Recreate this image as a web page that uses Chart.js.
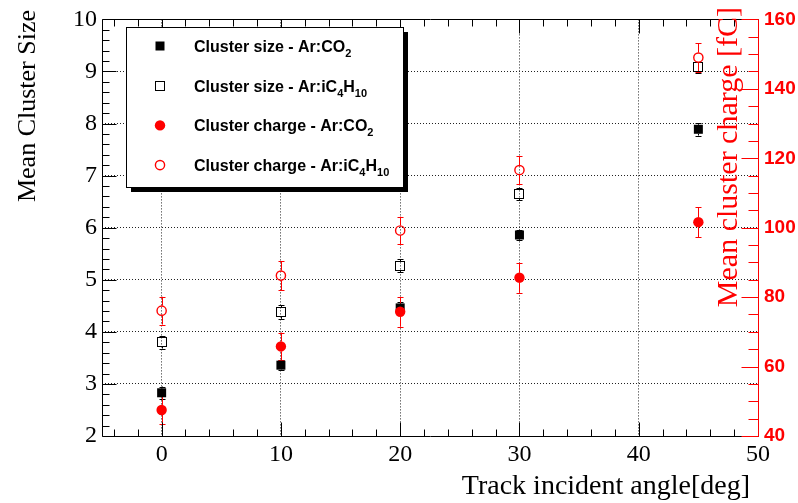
<!DOCTYPE html>
<html>
<head>
<meta charset="utf-8">
<script src="https://cdn.jsdelivr.net/npm/chart.js@4.4.0/dist/chart.umd.min.js"></script>
<style>
  body { margin: 0; background: #fff; }
  #wrap { width: 798px; height: 503px; }
</style>
</head>
<body>
<div id="wrap"><canvas id="myChart" width="798" height="503"></canvas></div>
<script>
// track incident angles [deg]
const angles = [0, 10, 20, 30, 45];

// mean cluster size (left axis)
const sizeCO2 = [2.83, 3.36, 4.46, 5.86, 7.89];
const sizeCO2Err = [0.12, 0.10, 0.12, 0.10, 0.12];
const sizeIso = [3.80, 4.38, 5.27, 6.65, 9.08];
const sizeIsoErr = [0.12, 0.13, 0.12, 0.12, 0.10];

// mean cluster charge [fC] (right axis)
const chargeCO2 = [47.5, 65.8, 75.8, 85.6, 101.6];
const chargeCO2Err = [4.0, 4.0, 4.3, 4.3, 4.3];
const chargeIso = [76.1, 86.2, 99.2, 116.6, 149.0];
const chargeIsoErr = [4.0, 4.2, 4.0, 4.0, 4.2];

const xTicks = [0, 10, 20, 30, 40, 50];
const yTicks = [2, 3, 4, 5, 6, 7, 8, 9, 10];
const y2Ticks = [40, 60, 80, 100, 120, 140, 160];

const RED = '#ff0000';

function pts(vals) {
    return angles.map(function (a, i) { return {x: a, y: vals[i]}; });
}

function setTicks(list) {
    return function (scale) {
        scale.ticks = list.map(function (v) { return {value: v}; });
    };
}

// marker shapes, shared by the plot and the legend
function drawMarker(ctx, type, x, y) {
    ctx.save();
    ctx.beginPath();
    if (type === 'fsq') {
        ctx.fillStyle = '#000';
        ctx.fillRect(x - 4.5, y - 4.5, 9, 9);
    } else if (type === 'osq') {
        ctx.strokeStyle = '#000';
        ctx.lineWidth = 1;
        ctx.strokeRect(Math.round(x) - 4.5, Math.round(y) - 4.5, 9, 9);
    } else if (type === 'fci') {
        ctx.fillStyle = RED;
        ctx.arc(x, y, 5.2, 0, Math.PI * 2);
        ctx.fill();
    } else {
        ctx.strokeStyle = RED;
        ctx.lineWidth = 1.4;
        ctx.arc(x, y, 4.6, 0, Math.PI * 2);
        ctx.stroke();
    }
    ctx.restore();
}

const legendRows = [
    {marker: 'fsq', parts: [['Cluster size - Ar:CO', 0], ['2', 1]]},
    {marker: 'osq', parts: [['Cluster size - Ar:iC', 0], ['4', 1], ['H', 0], ['10', 1]]},
    {marker: 'fci', parts: [['Cluster charge - Ar:CO', 0], ['2', 1]]},
    {marker: 'oci', parts: [['Cluster charge - Ar:iC', 0], ['4', 1], ['H', 0], ['10', 1]]}
];

const rootStyle = {
    id: 'rootStyle',
    beforeDatasetsDraw: function (chart) {
        const ctx = chart.ctx;
        chart.data.datasets.forEach(function (ds, i) {
            const meta = chart.getDatasetMeta(i);
            const sc = chart.scales[ds.yAxisID];
            const gap = ds.markerType.indexOf('sq') > 0 ? 4.5 : 5;
            ctx.save();
            ctx.strokeStyle = ds.barColor;
            ctx.lineWidth = 1;
            meta.data.forEach(function (p, j) {
                const v = ds.data[j].y, e = ds.errors[j];
                const x = Math.round(p.x) + 0.5;
                const top = sc.getPixelForValue(v + e);
                const bot = sc.getPixelForValue(v - e);
                ctx.beginPath();
                ctx.moveTo(x, p.y - gap); ctx.lineTo(x, top);
                ctx.moveTo(x, p.y + gap); ctx.lineTo(x, bot);
                ctx.moveTo(x - 3, Math.round(top) + 0.5); ctx.lineTo(x + 3, Math.round(top) + 0.5);
                ctx.moveTo(x - 3, Math.round(bot) + 0.5); ctx.lineTo(x + 3, Math.round(bot) + 0.5);
                ctx.stroke();
            });
            ctx.restore();
        });
    },
    afterDatasetsDraw: function (chart) {
        const ctx = chart.ctx;
        chart.data.datasets.forEach(function (ds, i) {
            chart.getDatasetMeta(i).data.forEach(function (p) {
                drawMarker(ctx, ds.markerType, p.x, p.y);
            });
        });
    },
    afterDraw: function (chart) {
        const ctx = chart.ctx;
        const a = chart.chartArea;
        const xs = chart.scales.x, ys = chart.scales.y, y2 = chart.scales.y2;
        const L = Math.round(a.left) + 0.5, R = Math.round(a.right) + 0.5;
        const T = Math.round(a.top) + 0.5, B = Math.round(a.bottom) + 0.5;

        ctx.save();
        // frame
        ctx.strokeStyle = '#000';
        ctx.lineWidth = 1;
        ctx.beginPath();
        ctx.moveTo(R, T); ctx.lineTo(L, T); ctx.lineTo(L, B); ctx.lineTo(R, B);
        ctx.stroke();

        // left axis ticks
        ctx.beginPath();
        for (let k = 0; k <= 40; k++) {
            const v = 2 + k * 0.2;
            const y = Math.round(ys.getPixelForValue(v)) + 0.5;
            const len = k % 5 === 0 ? 14 : 7;
            ctx.moveTo(L, y); ctx.lineTo(L + len, y);
        }
        // top and bottom ticks
        for (let v = -4; v <= 50; v += 2) {
            const x = Math.round(xs.getPixelForValue(v)) + 0.5;
            const len = v % 10 === 0 ? 14 : 7;
            ctx.moveTo(x, B); ctx.lineTo(x, B - len);
            ctx.moveTo(x, T); ctx.lineTo(x, T + len);
        }
        ctx.stroke();

        // right axis in red
        ctx.strokeStyle = RED;
        ctx.beginPath();
        ctx.moveTo(R, T); ctx.lineTo(R, B);
        for (let v = 40; v <= 160; v += 5) {
            const y = Math.round(y2.getPixelForValue(v)) + 0.5;
            const len = v % 20 === 0 ? 17 : 10;
            ctx.moveTo(R, y); ctx.lineTo(R - len, y);
        }
        ctx.stroke();

        // axis titles
        ctx.fillStyle = '#000';
        ctx.font = '28px "Liberation Serif"';
        ctx.textAlign = 'right';
        ctx.textBaseline = 'alphabetic';
        ctx.fillText('Track incident angle[deg]', 750, 494);

        ctx.save();
        ctx.translate(35, 10);
        ctx.rotate(-Math.PI / 2);
        ctx.font = '26px "Liberation Serif"';
        ctx.fillText('Mean Cluster Size', 0, 0);
        ctx.restore();

        ctx.save();
        ctx.translate(737, 7);
        ctx.rotate(-Math.PI / 2);
        ctx.fillStyle = RED;
        ctx.font = '30px "Liberation Serif"';
        ctx.fillText('Mean cluster charge [fC]', 0, 0);
        ctx.restore();

        // legend box with shadow
        const bx = 126, by = 27, bw = 277, bh = 160;
        ctx.fillStyle = '#000';
        ctx.fillRect(bx + 5, by + 5, bw, bh);
        ctx.fillStyle = '#fff';
        ctx.fillRect(bx, by, bw, bh);
        ctx.strokeStyle = '#000';
        ctx.lineWidth = 1;
        ctx.strokeRect(bx + 0.5, by + 0.5, bw, bh);

        legendRows.forEach(function (row, i) {
            const cy = 46 + i * 39.7;
            drawMarker(ctx, row.marker, 160, cy);
            let x = 194;
            ctx.fillStyle = '#000';
            ctx.textAlign = 'left';
            row.parts.forEach(function (part) {
                if (part[1]) {
                    ctx.font = 'bold 11px "Liberation Sans"';
                    ctx.fillText(part[0], x, cy + 11);
                } else {
                    ctx.font = 'bold 16px "Liberation Sans"';
                    ctx.fillText(part[0], x, cy + 6);
                }
                x += ctx.measureText(part[0]).width;
            });
        });
        ctx.restore();
    }
};

const ctx = document.getElementById('myChart').getContext('2d');
const myChart = new Chart(ctx, {
    type: 'scatter',
    data: {
        datasets: [
            {label: 'Cluster size - Ar:CO2', data: pts(sizeCO2), errors: sizeCO2Err,
             yAxisID: 'y', markerType: 'fsq', barColor: '#000'},
            {label: 'Cluster size - Ar:iC4H10', data: pts(sizeIso), errors: sizeIsoErr,
             yAxisID: 'y', markerType: 'osq', barColor: '#000'},
            {label: 'Cluster charge - Ar:CO2', data: pts(chargeCO2), errors: chargeCO2Err,
             yAxisID: 'y2', markerType: 'fci', barColor: RED},
            {label: 'Cluster charge - Ar:iC4H10', data: pts(chargeIso), errors: chargeIsoErr,
             yAxisID: 'y2', markerType: 'oci', barColor: RED}
        ]
    },
    options: {
        responsive: false,
        animation: false,
        devicePixelRatio: 1,
        elements: {point: {radius: 0, hoverRadius: 0}},
        layout: {autoPadding: false, padding: {left: 2, top: 12, right: 0, bottom: 0}},
        plugins: {legend: {display: false}, tooltip: {enabled: false}},
        scales: {
            x: {
                type: 'linear', position: 'bottom', min: -5, max: 50,
                afterBuildTicks: setTicks(xTicks),
                afterFit: function (s) { s.height = 67; },
                border: {display: false, dash: [1, 2]},
                grid: {
                    drawTicks: false,
                    color: function (c) { return c.tick && c.tick.value < 50 ? '#222' : 'rgba(0,0,0,0)'; }
                },
                ticks: {padding: 4, color: '#000', font: {family: 'Liberation Serif', size: 24}}
            },
            y: {
                position: 'left', min: 2, max: 10,
                afterBuildTicks: setTicks(yTicks),
                afterFit: function (s) { s.width = 100; },
                border: {display: false, dash: [1, 2]},
                grid: {
                    drawTicks: false,
                    color: function (c) {
                        const v = c.tick && c.tick.value;
                        return v > 2 && v < 10 ? '#222' : 'rgba(0,0,0,0)';
                    }
                },
                ticks: {padding: 5, color: '#000', font: {family: 'Liberation Serif', size: 24}}
            },
            y2: {
                position: 'right', min: 40, max: 160,
                afterBuildTicks: setTicks(y2Ticks),
                afterFit: function (s) { s.width = 40; },
                border: {display: false},
                grid: {display: false, drawTicks: false},
                ticks: {padding: 6, color: RED, font: {family: 'Liberation Sans', size: 19, weight: 'bold'}}
            }
        }
    },
    plugins: [rootStyle]
});
</script>
</body>
</html>
